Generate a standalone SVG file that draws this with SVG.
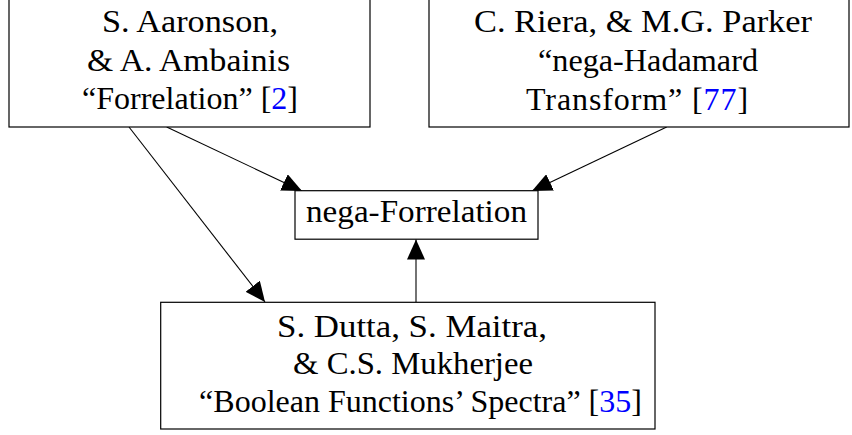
<svg xmlns="http://www.w3.org/2000/svg" width="852" height="435" viewBox="0 0 852 435">
<style>
.box{fill:#fff;stroke:#000;stroke-width:1.2}
text{font-family:"Liberation Serif","Times New Roman",serif;font-size:32px;fill:#000;text-anchor:middle}
.cite{fill:#0000ff}
.edge{stroke:#000;stroke-width:1.1;fill:none;marker-end:url(#arr)}
</style>
<defs>
<marker id="arr" markerUnits="userSpaceOnUse" markerWidth="22" markerHeight="18" refX="20" refY="9" orient="auto">
<path d="M0,0 L20,9 L0,18 Z" fill="#000"/>
</marker>
</defs>
<g id="connectors">
<line class="edge" x1="166.7" y1="127" x2="302" y2="191"/>
<line class="edge" x1="666.7" y1="127" x2="532" y2="191"/>
<line class="edge" x1="129" y1="127" x2="265" y2="302"/>
<line class="edge" x1="416" y1="302" x2="416" y2="239.5"/>
</g>
<g id="n1">
<rect class="box" x="9" y="-2" width="361" height="129"/>
<text x="190" y="32" textLength="176" lengthAdjust="spacingAndGlyphs">S. Aaronson,</text>
<text x="188.5" y="71" textLength="203" lengthAdjust="spacingAndGlyphs">&amp; A. Ambainis</text>
<text x="190" y="109">“Forrelation” [<tspan class="cite">2</tspan>]</text>
</g>
<g id="n2">
<rect class="box" x="429" y="-2" width="420" height="129"/>
<text x="643" y="32" textLength="338" lengthAdjust="spacingAndGlyphs">C. Riera, &amp; M.G. Parker</text>
<text x="648" y="71" textLength="220" lengthAdjust="spacingAndGlyphs">“nega-Hadamard</text>
<text x="637.5" y="110" letter-spacing="0.9">Transform” [<tspan class="cite">77</tspan>]</text>
</g>
<g id="n3">
<rect class="box" x="295" y="190.7" width="243" height="48.5"/>
<text x="416.5" y="222" textLength="221" lengthAdjust="spacingAndGlyphs">nega-Forrelation</text>
</g>
<g id="n4">
<rect class="box" x="160.7" y="302.3" width="494.3" height="126.7"/>
<text x="412" y="337" textLength="270" lengthAdjust="spacingAndGlyphs">S. Dutta, S. Maitra,</text>
<text x="413" y="374" textLength="240" lengthAdjust="spacingAndGlyphs">&amp; C.S. Mukherjee</text>
<text x="420.5" y="412" font-size="31.4">“Boolean Functions’ Spectra” [<tspan class="cite">35</tspan>]</text>
</g>
</svg>
